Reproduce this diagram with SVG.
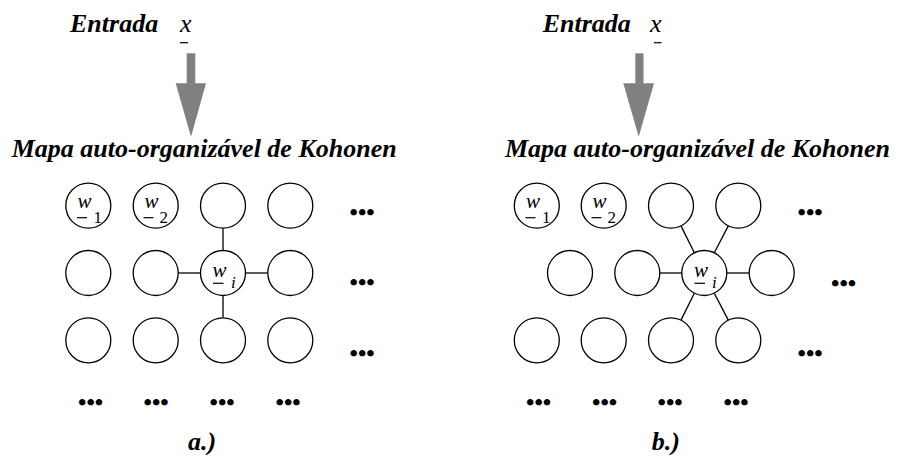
<svg xmlns="http://www.w3.org/2000/svg" width="900" height="457" viewBox="0 0 900 457" font-family="Liberation Serif, serif">
<style>
text{font-family:'Liberation Serif','Times New Roman',serif;fill:#000}
.t{font-weight:bold;font-style:italic;font-size:26px}
.v{font-style:italic;font-size:26px}
.w{font-style:italic;font-size:21px}
.s{font-size:17px}
.si{font-style:italic;font-size:17px}
.d{font-weight:bold;font-size:24px}
.n{fill:#fff;stroke:#000;stroke-width:1.3}
.e{stroke:#000;stroke-width:1.3;fill:none}
.u{stroke:#000;stroke-width:1.2}
.a{fill:#808080}
</style>
<g id="a-input">
<text class="t" x="70" y="32">Entrada</text>
<text class="v" x="180" y="32">x</text>
<line class="u" x1="180" y1="42.7" x2="188" y2="42.7"/>
</g>
<g id="a-arrow">
<rect class="a" x="186.7" y="53.3" width="8.6" height="30.5"/>
<polygon class="a" points="175.7,83.3 206,83.3 191,136.7"/>
</g>
<g id="a-title"><text class="t" x="11.7" y="156.7">Mapa auto-organizável de Kohonen</text></g>
<g id="a-edges">
<line class="e" x1="223" y1="228.2" x2="223" y2="250.5"/>
<line class="e" x1="223" y1="295.5" x2="223" y2="317.5"/>
<line class="e" x1="178.2" y1="273" x2="200.5" y2="273"/>
<line class="e" x1="245.5" y1="273" x2="267.5" y2="273"/>
</g>
<g id="a-n11"><circle class="n" cx="88.3" cy="205.7" r="22.5"/><text class="w" x="77.5" y="207.5">w</text><line class="u" x1="77" y1="217.7" x2="87" y2="217.7"/><text class="s" x="93.5" y="223">1</text></g>
<g id="a-n12"><circle class="n" cx="155.7" cy="205.7" r="22.5"/><text class="w" x="144.5" y="207.5">w</text><line class="u" x1="143.5" y1="217.7" x2="153.5" y2="217.7"/><text class="s" x="159.5" y="223">2</text></g>
<g id="a-n13"><circle class="n" cx="223" cy="205.7" r="22.5"/></g>
<g id="a-n14"><circle class="n" cx="290.3" cy="205.7" r="22.5"/></g>
<g id="a-n21"><circle class="n" cx="88.3" cy="273" r="22.5"/></g>
<g id="a-n22"><circle class="n" cx="155.7" cy="273" r="22.5"/></g>
<g id="a-n23"><circle class="n" cx="223" cy="273" r="22.5"/><text class="w" x="212.5" y="276.7">w</text><line class="u" x1="213" y1="283.3" x2="223.5" y2="283.3"/><text class="si" x="231" y="288.3">i</text></g>
<g id="a-n24"><circle class="n" cx="290.3" cy="273" r="22.5"/></g>
<g id="a-n31"><circle class="n" cx="88.3" cy="340.3" r="22.5"/></g>
<g id="a-n32"><circle class="n" cx="155.7" cy="340.3" r="22.5"/></g>
<g id="a-n33"><circle class="n" cx="223" cy="340.3" r="22.5"/></g>
<g id="a-n34"><circle class="n" cx="290.3" cy="340.3" r="22.5"/></g>
<g id="a-dots">
<text class="d" x="349.5" y="219.5">•••</text>
<text class="d" x="349.5" y="289.5">•••</text>
<text class="d" x="349.5" y="360.5">•••</text>
<text class="d" x="78" y="410">•••</text>
<text class="d" x="143.5" y="410">•••</text>
<text class="d" x="209.5" y="410">•••</text>
<text class="d" x="275.5" y="410">•••</text>
</g>
<g id="a-label"><text class="t" x="188" y="450">a.)</text></g>
<g id="b-input">
<text class="t" x="542.7" y="32">Entrada</text>
<text class="v" x="650" y="32">x</text>
<line class="u" x1="654" y1="42.7" x2="661.5" y2="42.7"/>
</g>
<g id="b-arrow">
<rect class="a" x="635.3" y="53.3" width="8.2" height="30.5"/>
<polygon class="a" points="623.3,83.3 654,83.3 638.7,136.7"/>
</g>
<g id="b-title"><text class="t" x="505" y="156.7">Mapa auto-organizável de Kohonen</text></g>
<g id="b-edges">
<line class="e" x1="681" y1="225.9" x2="694.3" y2="252.8"/>
<line class="e" x1="728.3" y1="225.9" x2="714.3" y2="252.8"/>
<line class="e" x1="659.8" y1="273" x2="681.8" y2="273"/>
<line class="e" x1="726.8" y1="273" x2="749.2" y2="273"/>
<line class="e" x1="694.3" y1="293.2" x2="681" y2="320.1"/>
<line class="e" x1="714.3" y1="293.2" x2="728.3" y2="320.1"/>
</g>
<g id="b-n11"><circle class="n" cx="536.8" cy="205.7" r="22.5"/><text class="w" x="526" y="207.5">w</text><line class="u" x1="525.5" y1="217.7" x2="535.5" y2="217.7"/><text class="s" x="542" y="223">1</text></g>
<g id="b-n12"><circle class="n" cx="603.7" cy="205.7" r="22.5"/><text class="w" x="592.5" y="207.5">w</text><line class="u" x1="591.5" y1="217.7" x2="601.5" y2="217.7"/><text class="s" x="607.5" y="223">2</text></g>
<g id="b-n13"><circle class="n" cx="671" cy="205.7" r="22.5"/></g>
<g id="b-n14"><circle class="n" cx="738.3" cy="205.7" r="22.5"/></g>
<g id="b-n21"><circle class="n" cx="570" cy="273" r="22.5"/></g>
<g id="b-n22"><circle class="n" cx="637.3" cy="273" r="22.5"/></g>
<g id="b-n23"><circle class="n" cx="704.3" cy="273" r="22.5"/><text class="w" x="694" y="276.7">w</text><line class="u" x1="694.5" y1="283.3" x2="705" y2="283.3"/><text class="si" x="712" y="288.3">i</text></g>
<g id="b-n24"><circle class="n" cx="771.7" cy="273" r="22.5"/></g>
<g id="b-n31"><circle class="n" cx="536.8" cy="340.3" r="22.5"/></g>
<g id="b-n32"><circle class="n" cx="603.7" cy="340.3" r="22.5"/></g>
<g id="b-n33"><circle class="n" cx="671" cy="340.3" r="22.5"/></g>
<g id="b-n34"><circle class="n" cx="738.3" cy="340.3" r="22.5"/></g>
<g id="b-dots">
<text class="d" x="797.5" y="219.5">•••</text>
<text class="d" x="831" y="290.5">•••</text>
<text class="d" x="797.5" y="360.5">•••</text>
<text class="d" x="526" y="410">•••</text>
<text class="d" x="592" y="410">•••</text>
<text class="d" x="657.5" y="410">•••</text>
<text class="d" x="723.5" y="410">•••</text>
</g>
<g id="b-label"><text class="t" x="651.7" y="450">b.)</text></g>
</svg>
